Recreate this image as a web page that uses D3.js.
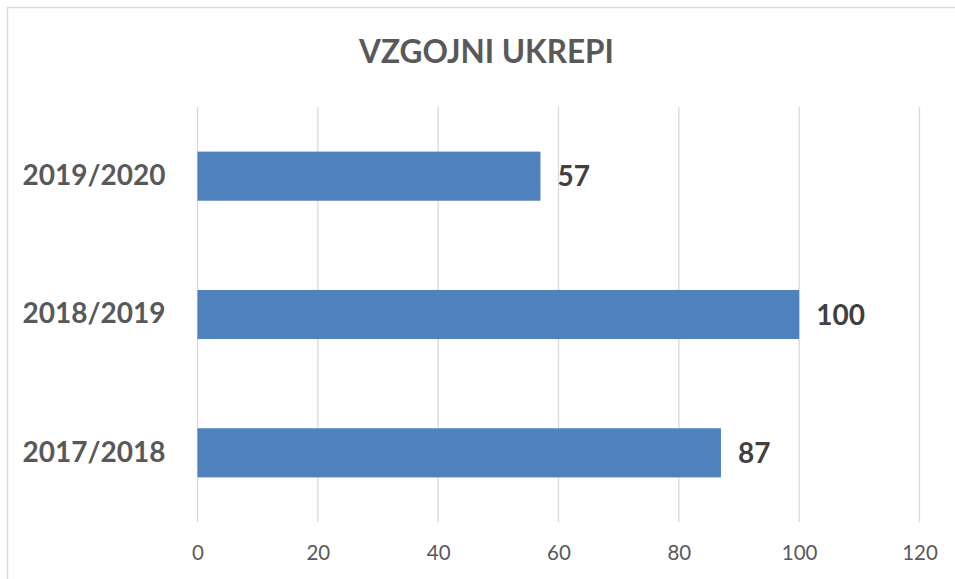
<!DOCTYPE html>
<html>
<head>
<meta charset="utf-8">
<script src="https://cdn.jsdelivr.net/npm/d3@7"></script>
<style>
  html, body { margin: 0; padding: 0; background: #fff; overflow: hidden; }
  text { font-family: Lato, "Open Sans", sans-serif; }
</style>
</head>
<body>
<script>
// chart data
const categories = ['2019/2020', '2018/2019', '2017/2018'];
const values = [57, 100, 87];
const xTicks = [0, 20, 40, 60, 80, 100, 120];
const title = 'VZGOJNI UKREPI';

const width = 955;
const height = 579;
const margin = { top: 107, right: 35.5, bottom: 57, left: 197.5 };

const svg = d3.select('body').append('svg')
.attr('width', width)
.attr('height', height);

// chart frame, runs off the right and bottom edge like the original
svg.append('rect')
.attr('x', 7.5)
.attr('y', 7.5)
.attr('width', width + 20)
.attr('height', height + 20)
.style('fill', '#fff')
.style('stroke', '#d9d9d9')
.style('stroke-width', 1.5);

const x = d3.scaleLinear()
.domain([0, 120])
.range([margin.left, width - margin.right]);

const y = d3.scaleBand()
.domain(categories)
.range([margin.top, height - margin.bottom])
.paddingInner(0.645)
.paddingOuter(0.3225);

// vertical gridlines
svg.append('g')
.selectAll('line')
.data(xTicks)
.join('line')
.attr('x1', d => x(d))
.attr('x2', d => x(d))
.attr('y1', margin.top)
.attr('y2', height - margin.bottom)
.style('stroke', '#d9d9d9')
.style('stroke-width', 1.3);

// x tick labels
const xAxis = svg.append('g')
.attr('transform', `translate(0,${height - margin.bottom})`)
.call(d3.axisBottom(x).tickValues(xTicks).tickSize(0).tickPadding(23));
xAxis.select('.domain').remove();
xAxis.selectAll('text')
.style('font-family', 'Lato, sans-serif')
.style('font-size', '20.5px')
.style('fill', '#595959');

// category labels
const yAxis = svg.append('g')
.attr('transform', `translate(${margin.left},0)`)
.call(d3.axisLeft(y).tickSize(0).tickPadding(32));
yAxis.select('.domain').remove();
yAxis.selectAll('text')
.style('font-family', 'Lato, sans-serif')
.style('font-size', '28px')
.style('font-weight', 'bold')
.style('fill', '#595959');

const rows = categories.map((c, i) => ({ c, v: values[i] }));

// bars
svg.append('g')
.selectAll('rect')
.data(rows)
.join('rect')
.attr('x', x(0))
.attr('y', d => y(d.c))
.attr('width', d => x(d.v) - x(0))
.attr('height', y.bandwidth())
.style('fill', '#4f81bd');

// value labels
svg.append('g')
.selectAll('text')
.data(rows)
.join('text')
.attr('x', d => x(d.v) + 17)
.attr('y', d => y(d.c) + y.bandwidth() / 2)
.attr('dy', '0.36em')
.text(d => d.v)
.style('font-size', '28px')
.style('font-weight', 'bold')
.style('fill', '#404040');

// title
svg.append('text')
.attr('x', 486.5)
.attr('y', 63)
.attr('text-anchor', 'middle')
.text(title)
.style('font-size', '31.5px')
.style('font-weight', 'bold')
.style('fill', '#595959');
</script>
</body>
</html>
